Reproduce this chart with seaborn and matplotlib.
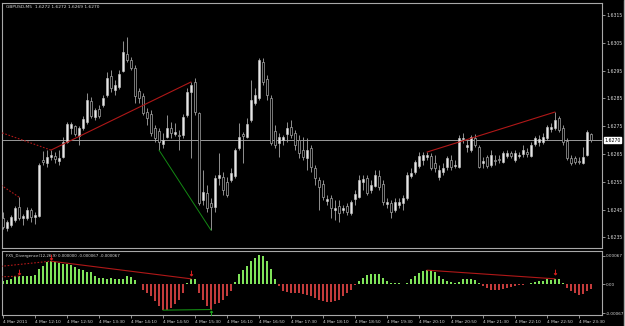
import matplotlib
matplotlib.use("Agg")
import matplotlib.pyplot as plt
import numpy as np
import pandas as pd
import seaborn as sns

# ---------------- data ----------------
BASE = 1.6200  # prices below are pips above this base
open_pips = [41.9,38.3,39.4,41.2,45.9,41.9,41.9,44.8,42.3,42.6,62.8,61.7,63.9,64.3,62.4,63.9,69.3,74.3,75.0,71.4,
             74.3,76.5,84.0,78.3,81.2,82.6,86.2,93.0,88.0,89.1,94.8,101.0,98.8,95.9,87.6,85.8,80.1,79.4,74.3,73.2,
             68.6,71.1,74.3,72.2,71.8,71.8,79.0,87.3,90.9,79.7,48.4,50.9,47.3,45.9,56.3,56.7,54.9,55.6,57.0,67.1,
             72.2,71.1,77.2,83.3,85.1,98.1,92.0,85.1,73.2,68.9,70.0,72.2,74.7,72.5,70.0,66.4,63.5,67.1,59.9,55.6,
             54.2,48.0,49.1,44.8,46.2,44.8,46.2,43.7,48.8,49.5,54.9,56.3,52.0,53.4,57.0,54.2,47.0,47.3,44.8,46.6,
             47.3,49.1,57.0,58.5,60.6,62.8,63.9,64.3,61.7,56.7,58.5,60.3,62.8,60.6,60.3,70.4,67.5,66.4,70.7,67.5,
             61.7,63.9,61.0,62.8,63.2,62.1,64.3,65.3,62.8,64.3,65.0,65.7,64.3,68.6,69.3,69.3,70.7,74.0,74.3,77.9,
             74.3,69.6,63.5,63.5,62.4,61.7,64.6,72.2]
high_pips = [44.1,41.2,43.0,46.2,49.5,43.4,45.9,45.5,44.1,61.7,66.0,66.4,66.4,65.7,66.4,71.1,76.5,76.5,75.4,75.0,
             78.6,86.9,85.5,81.5,82.6,86.2,94.5,95.2,91.6,95.2,105.6,107.1,99.9,97.0,88.7,86.9,81.5,80.8,75.4,74.3,
             72.5,79.0,76.5,76.1,73.6,79.4,88.7,90.9,92.3,80.1,59.2,53.8,49.1,57.4,65.3,58.5,56.7,59.9,67.1,76.1,
             72.9,77.9,91.6,88.7,99.5,99.5,93.4,86.2,75.4,72.5,71.8,76.5,77.2,73.6,71.8,71.1,70.7,68.2,61.0,56.7,
             55.6,50.2,50.2,48.4,48.4,46.6,47.3,48.4,52.0,57.4,57.4,57.4,55.6,59.2,59.2,55.6,49.1,48.4,49.1,49.1,
             50.2,58.5,59.9,62.8,65.7,65.7,65.7,65.3,64.6,61.0,61.7,64.3,64.6,62.8,71.8,72.5,70.0,71.8,72.2,68.2,
             63.9,64.6,66.4,64.6,64.6,66.0,66.4,66.0,66.4,65.7,68.2,67.1,69.3,71.4,71.8,72.5,75.4,76.1,80.1,78.6,
             75.4,70.7,64.6,64.3,63.9,67.5,73.6,72.5]
low_pips = [38.0,37.2,38.7,40.5,41.2,39.4,41.2,40.5,39.8,42.3,61.0,60.3,62.8,61.7,61.0,63.5,68.9,72.2,71.4,68.2,
            73.6,75.8,77.9,77.2,77.9,81.9,85.5,87.3,86.2,88.4,94.5,98.1,95.2,83.3,83.3,79.0,75.4,71.4,69.3,66.4,
            67.1,70.7,70.7,71.4,66.4,70.7,78.3,63.5,79.0,46.6,46.6,44.1,37.6,44.1,53.8,50.2,49.5,54.9,56.3,66.4,
            61.7,70.7,76.5,82.6,84.4,89.8,84.4,68.2,67.1,63.9,68.2,69.3,70.7,66.4,63.5,62.8,59.2,58.5,53.8,44.8,
            48.4,46.6,41.9,41.2,40.5,43.7,43.0,43.0,46.6,49.1,52.0,50.2,50.9,53.1,52.0,46.6,45.5,41.9,44.1,45.5,
            44.8,48.4,56.3,57.8,59.9,61.0,62.8,59.2,58.5,55.6,57.4,59.2,59.2,59.9,59.9,68.9,65.7,65.7,67.5,59.9,
            59.9,59.9,60.3,61.0,61.7,61.7,63.5,63.5,62.1,63.5,63.9,63.9,63.9,67.8,67.8,68.6,70.0,72.9,73.6,72.9,
            68.2,62.8,61.0,61.4,61.4,61.4,64.3,69.3]
close_pips = [38.7,40.5,42.3,45.5,41.9,42.6,44.8,42.3,43.0,61.0,62.1,63.9,64.6,63.2,63.5,69.3,75.8,75.8,72.2,74.3,
              77.6,84.4,78.6,80.8,78.6,85.1,92.3,88.7,89.8,93.8,101.7,98.8,95.9,85.8,85.1,79.7,77.9,72.5,70.7,69.3,
              70.0,74.3,72.5,72.9,71.4,78.3,87.3,89.8,80.1,47.3,51.3,45.5,45.9,56.3,57.4,52.0,50.2,58.1,66.4,71.1,
              71.4,75.8,84.4,86.2,98.8,90.9,86.2,68.9,68.2,71.1,71.1,74.3,71.8,68.2,65.3,63.9,66.4,60.3,56.3,53.1,
              49.5,48.8,45.5,45.5,43.7,45.5,44.1,47.7,50.6,55.6,56.0,50.9,53.8,57.4,53.1,47.7,47.7,44.1,47.7,47.7,
              49.1,57.4,58.1,62.1,64.3,64.6,64.6,59.9,59.9,59.2,59.9,63.5,60.3,61.0,70.7,70.7,68.2,71.1,68.2,60.3,
              62.4,60.6,64.6,62.4,62.8,65.3,65.3,64.3,65.3,64.6,66.4,65.0,68.2,70.7,70.4,71.1,74.7,74.7,77.2,73.6,
              69.3,63.5,61.7,62.1,62.1,63.9,72.9,70.0]

# oscillator histogram, in units of 1e-6
hist_1e6 = [77,100,131,193,193,193,193,193,208,347,424,516,539,531,501,485,485,439,408,362,
            331,300,285,193,154,139,116,154,131,131,131,193,177,100,15,
            -116,-193,-270,-385,-501,-593,-578,-539,-462,-347,-193,
            23,131,131,
            -193,-347,-501,-578,-462,-424,-347,-270,-154,
            54,231,331,424,539,616,693,655,539,347,116,
            -39,-154,-177,-193,-208,-208,
            -231,-254,-270,-308,-347,-385,-408,-408,-385,-347,-270,-193,-116,-15,
            77,154,208,231,254,231,154,77,39,23,23,15,39,116,193,270,308,331,331,285,193,116,77,54,39,54,116,116,116,100,39,
            -39,-77,-116,-131,-116,-100,-77,-54,-39,-23,-15,
            15,23,54,77,92,116,100,131,116,39,
            -77,-154,-208,-254,-231,-154,-100]

time_tick_idx = [0, 8, 16, 24, 32, 40, 48, 56, 64, 72, 80, 88, 96, 104, 112, 120, 128, 136, 144]
time_tick_labels = ["4 Mar 2011", "4 Mar 12:10", "4 Mar 12:50", "4 Mar 13:30", "4 Mar 14:10",
                    "4 Mar 14:50", "4 Mar 15:30", "4 Mar 16:10", "4 Mar 16:50", "4 Mar 17:30",
                    "4 Mar 18:10", "4 Mar 18:50", "4 Mar 19:30", "4 Mar 20:10", "4 Mar 20:50",
                    "4 Mar 21:30", "4 Mar 22:10", "4 Mar 22:50", "4 Mar 23:30"]
price_ticks = [1.6235, 1.6245, 1.6255, 1.6265, 1.6275, 1.6285, 1.6295, 1.6305, 1.6315]
current_price = 1.6270
osc_ticks = [-0.00067, 0.0, 0.00067]
osc_tick_labels = ["-0.00067", "0.00", "0.00067"]

# divergence lines: (bar index, pips) on price, (bar index, 1e-6) on oscillator
price_red_solid = [([12, 47], [66.4, 90.9]), ([106, 138], [65.7, 80.1])]
price_red_dotted = [([-1, 12], [73.0, 66.4]), ([-0.5, 4], [53.8, 49.5])]
price_green = ([39, 52], [66.4, 37.6])
osc_red_solid = [([12, 47], [539, 131]), ([106, 138], [331, 131])]
osc_red_dotted = [([-0.5, 12], [420, 539]), ([-0.5, 4], [177, 193])]
osc_green = ([40, 52], [-593, -578])
osc_red_arrows = ([4, 12, 47, 138], [290, 640, 260, 280])
osc_green_arrows = ([52], [-660])

title_text = "GBPUSD,M5  1.6272 1.6272 1.6269 1.6270"
osc_label = "FX5_Divergence(12,26,9) 0.000000 -0.000067 -0.000067"

# ---------------- style ----------------
sns.set_theme(style="dark")
plt.rcParams["font.family"] = ["DejaVu Sans"]
FG = "#d8d8d8"
FRAME = "#a8a8a8"

W, H = 625, 326
fig = plt.figure(figsize=(W / 100, H / 100), dpi=100, facecolor="black")

def fig_rect(x0, y0, x1, y1):
    return [x0 / W, 1 - y1 / H, (x1 - x0) / W, (y1 - y0) / H]

ax = fig.add_axes(fig_rect(2, 3, 602, 248))
ax2 = fig.add_axes(fig_rect(2, 251, 602, 315))
for a in (ax, ax2):
    a.set_facecolor("black")
    for s in a.spines.values():
        s.set_color(FRAME)
        s.set_linewidth(0.8)
    a.grid(False)

n = len(close_pips)
idx = np.arange(n)
o = BASE + np.array(open_pips) / 1e4
h = BASE + np.array(high_pips) / 1e4
l = BASE + np.array(low_pips) / 1e4
c = BASE + np.array(close_pips) / 1e4
bull = c >= o

# wicks
ax.vlines(idx, l, h, color="#a8a8a8", linewidth=0.6, zorder=2)
body_bottom = np.minimum(o, c)
body_h = np.maximum(np.abs(c - o), 0.000012)
ax.bar(idx[bull], body_h[bull], bottom=body_bottom[bull], width=0.62,
       color="#e6e6e6", edgecolor="#c8c8c8", linewidth=0.4, zorder=3)
ax.bar(idx[~bull], body_h[~bull], bottom=body_bottom[~bull], width=0.62,
       color="black", edgecolor="#a8a8a8", linewidth=0.5, zorder=3)

ax.axhline(current_price, color="#9a9a9a", linewidth=0.7, zorder=1)

for xs, ys in price_red_solid:
    sns.lineplot(x=xs, y=[BASE + v / 1e4 for v in ys], ax=ax, color="#b01818", linewidth=0.8, zorder=4)
for xs, ys in price_red_dotted:
    ax.plot(xs, [BASE + v / 1e4 for v in ys], color="#b01818", linewidth=0.8, linestyle=(0, (1.5, 1.5)), zorder=4)
sns.lineplot(x=price_green[0], y=[BASE + v / 1e4 for v in price_green[1]], ax=ax,
             color="#138a13", linewidth=0.7, zorder=4)

YLO, YHI = 1.62312, 1.63193
ax.set_xlim(-0.25, 149.75)
ax.set_ylim(YLO, YHI)
ax.set_xticks([])
ax.yaxis.tick_right()
ax.set_yticks(price_ticks)
ax.set_yticklabels([f"{p:.4f}" for p in price_ticks])
ax.tick_params(axis="y", colors=FRAME, labelcolor=FG, labelsize=3.3, length=2.0, width=0.6, pad=1.0, right=True, left=False)
ax.set_xlabel("")
ax.set_ylabel("")
ax.text(1.004, (current_price - YLO) / (YHI - YLO), f"{current_price:.4f}",
        transform=ax.transAxes, ha="left", va="center", fontsize=3.3, color="black",
        bbox=dict(boxstyle="square,pad=0.15", facecolor="white", edgecolor="white"), zorder=10, clip_on=False)
ax.text(0.006, 0.99, title_text, transform=ax.transAxes, ha="left", va="top", fontsize=3.2, color=FG)

# ---------------- oscillator ----------------
vals = np.array(hist_1e6) * 1e-6
df = pd.DataFrame({"bar": idx, "val": vals, "sign": np.where(vals >= 0, "pos", "neg")})
sns.barplot(data=df, x="bar", y="val", hue="sign", palette={"pos": "#7fe35a", "neg": "#c23b3b"},
            native_scale=True, dodge=False, width=0.45, legend=False, errorbar=None,
            saturation=1, linewidth=0, ax=ax2)

for xs, ys in osc_red_solid:
    ax2.plot(xs, np.array(ys) * 1e-6, color="#b01818", linewidth=0.8, zorder=4)
for xs, ys in osc_red_dotted:
    ax2.plot(xs, np.array(ys) * 1e-6, color="#b01818", linewidth=0.8, linestyle=(0, (1.5, 1.5)), zorder=4)
ax2.plot(osc_green[0], np.array(osc_green[1]) * 1e-6, color="#138a13", linewidth=0.8, zorder=4)
ax2.scatter(osc_red_arrows[0], np.array(osc_red_arrows[1]) * 1e-6, marker=r"$\downarrow$",
            s=14, color="#e02020", linewidths=0.3, zorder=5)
ax2.scatter(osc_green_arrows[0], np.array(osc_green_arrows[1]) * 1e-6, marker=r"$\uparrow$",
            s=14, color="#20b020", linewidths=0.3, zorder=5)

ax2.set_xlim(-0.25, 149.75)
ax2.set_ylim(-705e-6, 774e-6)
ax2.yaxis.tick_right()
ax2.set_yticks(osc_ticks)
ax2.set_yticklabels(osc_tick_labels)
ax2.tick_params(axis="y", colors=FRAME, labelcolor=FG, labelsize=3.0, length=2.0, width=0.6, pad=1.0, right=True, left=False)
ax2.set_xticks(time_tick_idx)
ax2.set_xticklabels(time_tick_labels, ha="left")
ax2.tick_params(axis="x", colors=FRAME, labelcolor=FG, labelsize=3.1, length=2.5, width=0.6, pad=1.0, bottom=True)
ax2.set_xlabel("")
ax2.set_ylabel("")
ax2.text(0.006, 0.95, osc_label, transform=ax2.transAxes, ha="left", va="top", fontsize=2.9, color=FG)

# outer window border on the right
fig.add_artist(plt.Line2D([623.5 / W, 623.5 / W], [0, 1], color="#a8a8a8", linewidth=1.0))

fig.savefig("out.png", dpi=100, facecolor="black")
